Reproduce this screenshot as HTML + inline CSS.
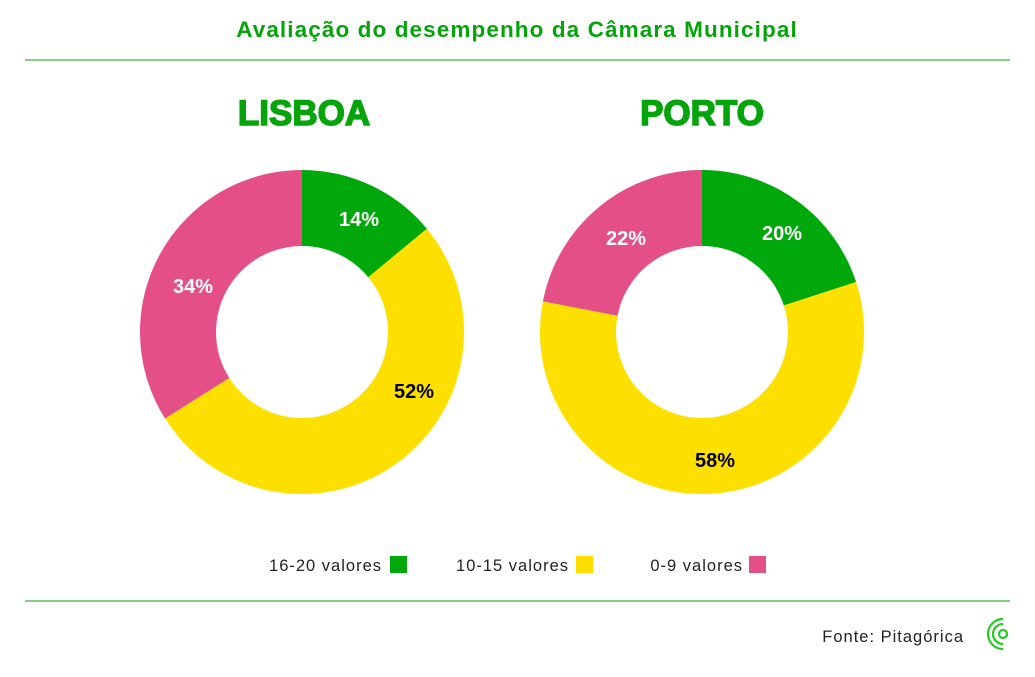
<!DOCTYPE html>
<html><head><meta charset="utf-8"><style>
body{margin:0;background:#fff;width:1035px;height:672px;overflow:hidden;font-family:"Liberation Sans",sans-serif}
</style></head><body>
<svg width="1035" height="672" viewBox="0 0 1035 672" xmlns="http://www.w3.org/2000/svg" font-family="Liberation Sans, sans-serif">
<text x="517" y="37" text-anchor="middle" font-size="22.5" font-weight="bold" letter-spacing="1.1" fill="#04a40a">Avaliação do desempenho da Câmara Municipal</text>
<line x1="25" y1="60" x2="1010" y2="60" stroke="#3cb043" stroke-width="1.3"/>
<text x="304" y="125" text-anchor="middle" font-size="35" font-weight="bold" fill="#04a40a" stroke="#04a40a" stroke-width="1.5">LISBOA</text>
<text x="702" y="125" text-anchor="middle" font-size="35" font-weight="bold" fill="#04a40a" stroke="#04a40a" stroke-width="1.5">PORTO</text>
<g transform="rotate(-90 302 332)" fill="none" stroke-width="76">
<circle cx="302" cy="332" r="124" stroke="#00a80c" stroke-dasharray="109.08 779.11" stroke-dashoffset="0"/>
<circle cx="302" cy="332" r="124" stroke="#fde000" stroke-dasharray="405.14 779.11" stroke-dashoffset="-109.08"/>
<circle cx="302" cy="332" r="124" stroke="#e44f87" stroke-dasharray="264.89 779.11" stroke-dashoffset="-514.22"/>
</g>
<g transform="rotate(-90 702 332)" fill="none" stroke-width="76">
<circle cx="702" cy="332" r="124" stroke="#00a80c" stroke-dasharray="155.82 779.11" stroke-dashoffset="0"/>
<circle cx="702" cy="332" r="124" stroke="#fde000" stroke-dasharray="451.88 779.11" stroke-dashoffset="-155.82"/>
<circle cx="702" cy="332" r="124" stroke="#e44f87" stroke-dasharray="171.41 779.11" stroke-dashoffset="-607.7"/>
</g>
<g font-size="20" font-weight="bold" text-anchor="middle">
<text x="359" y="226" fill="#fff">14%</text>
<text x="414" y="398" fill="#000">52%</text>
<text x="193" y="293" fill="#fff">34%</text>
<text x="782" y="240" fill="#fff">20%</text>
<text x="715" y="467" fill="#000">58%</text>
<text x="626" y="245" fill="#fff">22%</text>
</g>
<g font-size="16.5" fill="#222" letter-spacing="1">
<text x="382" y="571" text-anchor="end">16-20 valores</text>
<rect x="390" y="556" width="17" height="17" fill="#00a80c"/>
<text x="569" y="571" text-anchor="end">10-15 valores</text>
<rect x="576" y="556" width="17" height="17" fill="#fde000"/>
<text x="743" y="571" text-anchor="end">0-9 valores</text>
<rect x="749" y="556" width="17" height="17" fill="#e44f87"/>
</g>
<line x1="25" y1="601" x2="1010" y2="601" stroke="#3cb043" stroke-width="1.3"/>
<text x="964" y="642" text-anchor="end" font-size="16.5" letter-spacing="1" fill="#222">Fonte: Pitagórica</text>
<g fill="none" stroke="#22cc22" stroke-width="2.2">
<circle cx="1003" cy="634" r="4"/>
<path d="M1003 624 A10 10 0 0 0 1003 644"/>
<path d="M1003 619 A15 15 0 0 0 1003 649"/>
</g>
</svg>
</body></html>
